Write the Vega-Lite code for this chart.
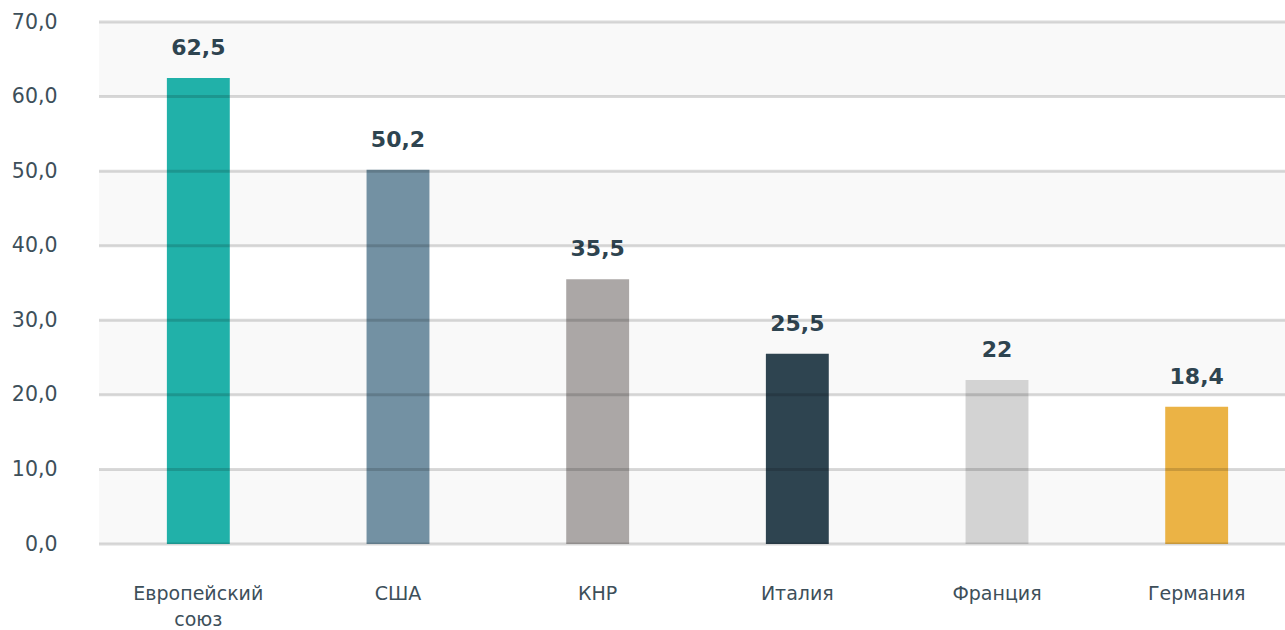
{
  "$schema": "https://vega.github.io/schema/vega-lite/v6.json",
  "autosize": {"type": "none"},
  "width": 1197,
  "height": 522,
  "padding": {"left": 99, "top": 22, "right": 0, "bottom": 86},
  "background": "white",
  "config": {"view": {"stroke": null}, "font": "DejaVu Sans"},
  "datasets": {
    "bars": [
      {"country": "Европейский союз", "value": 62.5, "label": "62,5"},
      {"country": "США", "value": 50.2, "label": "50,2"},
      {"country": "КНР", "value": 35.5, "label": "35,5"},
      {"country": "Италия", "value": 25.5, "label": "25,5"},
      {"country": "Франция", "value": 22, "label": "22"},
      {"country": "Германия", "value": 18.4, "label": "18,4"}
    ],
    "bands": [
      {"mid": 5},
      {"mid": 25},
      {"mid": 45},
      {"mid": 65}
    ],
    "grid": [
      {"v": 0}, {"v": 10}, {"v": 20}, {"v": 30}, {"v": 40}, {"v": 50}, {"v": 60}, {"v": 70}
    ]
  },
  "layer": [
    {
      "data": {"name": "bands"},
      "mark": {"type": "rule", "color": "#f9f9f9", "strokeWidth": 74.6, "strokeCap": "butt"},
      "encoding": {
        "y": {
          "field": "mid", "type": "quantitative",
          "scale": {"domain": [0, 70], "nice": false},
          "axis": {
            "title": null, "domain": false, "ticks": false, "grid": false,
            "values": [0, 10, 20, 30, 40, 50, 60, 70],
            "labelFontSize": 20.5, "labelColor": "#3d4f5a", "labelPadding": 42,
            "labelFont": "DejaVu Sans",
            "labelExpr": "replace(format(datum.value, '.1f'), '.', ',')"
          }
        }
      }
    },
    {
      "data": {"name": "bars"},
      "mark": {"type": "bar"},
      "encoding": {
        "x": {
          "field": "country", "type": "nominal", "sort": null,
          "scale": {"paddingInner": 0.685, "paddingOuter": 0.34},
          "axis": {
            "title": null, "domain": false, "ticks": false, "labelAngle": 0,
            "labelFontSize": 19, "labelColor": "#3d4f5a", "labelPadding": 40,
            "labelFont": "DejaVu Sans", "labelLineHeight": 26,
            "labelExpr": "datum.value == 'Европейский союз' ? ['Европейский', 'союз'] : datum.value"
          }
        },
        "y": {"field": "value", "type": "quantitative"},
        "color": {
          "field": "country", "type": "nominal", "sort": null, "legend": null,
          "scale": {
            "domain": ["Европейский союз", "США", "КНР", "Италия", "Франция", "Германия"],
            "range": ["#21b1a9", "#7391a3", "#aba7a6", "#2e4450", "#d3d3d3", "#ebb345"]
          }
        }
      }
    },
    {
      "data": {"name": "bars"},
      "mark": {"type": "text", "fontWeight": "bold", "fontSize": 22, "color": "#2e4450", "baseline": "alphabetic", "dy": -23, "font": "DejaVu Sans"},
      "encoding": {
        "x": {"field": "country", "type": "nominal", "sort": null},
        "y": {"field": "value", "type": "quantitative"},
        "text": {"field": "label"}
      }
    },
    {
      "data": {"name": "grid"},
      "mark": {"type": "rule", "color": "#000000", "opacity": 0.15, "strokeWidth": 3},
      "encoding": {
        "y": {"field": "v", "type": "quantitative"}
      }
    }
  ]
}
